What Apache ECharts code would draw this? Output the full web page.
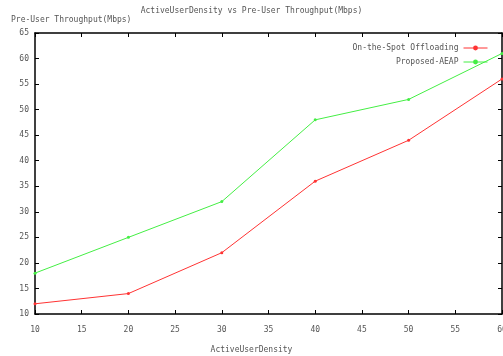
<!DOCTYPE html>
<html>
<head>
<meta charset="utf-8">
<script src="https://cdn.jsdelivr.net/npm/echarts@6/dist/echarts.min.js"></script>
<style>
  html, body { margin: 0; padding: 0; background: #fff; }
  #chart_id { width: 503px; height: 356px; }
</style>
</head>
<body>
<div id="chart_id"></div>
<script>
// data
var density = [10, 20, 30, 40, 50, 60];
var onTheSpot = [12, 14, 22, 36, 44, 56];
var proposedAEAP = [18, 25, 32, 48, 52, 61];
var seriesNames = ['On-the-Spot Offloading', 'Proposed-AEAP'];

var txt = { color: '#555', fontSize: 8, fontFamily: 'DejaVu Sans Mono' };

function pairs(xs, ys) {
  return xs.map(function (x, i) { return [x, ys[i]]; });
}

var axisCommon = {
  axisLine: { show: true, lineStyle: { color: '#000', width: 1.5 } },
  axisTick: { show: true, inside: true, length: 4, lineStyle: { color: '#000' } },
  splitLine: { show: false }
};

var chart = echarts.init(document.getElementById('chart_id'));
var option = {
  animation: false,
  title: [
    { text: 'ActiveUserDensity vs Pre-User Throughput(Mbps)', left: 'center', top: 2,
      textStyle: Object.assign({}, txt, { fontWeight: 'normal' }) },
    { text: 'Pre-User Throughput(Mbps)', left: 6, top: 11,
      textStyle: Object.assign({}, txt, { fontWeight: 'normal' }) },
    { text: 'ActiveUserDensity', left: 'center', top: 341,
      textStyle: Object.assign({}, txt, { fontWeight: 'normal' }) }
  ],
  color: ['#ff3333', '#44ee44'],
  grid: { left: 35, right: 1, top: 33, bottom: 42, outerBoundsMode: 'none', containLabel: false },
  legend: {
    orient: 'vertical',
    right: 10,
    top: 39,
    align: 'right',
    itemWidth: 24,
    itemHeight: 6,
    itemGap: 6,
    textStyle: txt,
    lineStyle: { width: 1 },
    data: seriesNames
  },
  xAxis: [
    Object.assign({ type: 'value', min: 10, max: 60, interval: 5, position: 'bottom',
      axisLabel: Object.assign({ margin: 12 }, txt) }, axisCommon),
    Object.assign({ type: 'value', min: 10, max: 60, interval: 5, position: 'top',
      axisLabel: { show: false } }, axisCommon)
  ],
  yAxis: [
    Object.assign({ type: 'value', min: 10, max: 65, interval: 5, position: 'left',
      axisLabel: Object.assign({ margin: 6 }, txt) }, axisCommon),
    Object.assign({ type: 'value', min: 10, max: 65, interval: 5, position: 'right',
      axisLabel: { show: false } }, axisCommon)
  ],
  series: [
    {
      name: seriesNames[0], type: 'line', data: pairs(density, onTheSpot),
      symbol: 'circle', symbolSize: 3, lineStyle: { width: 1 }
    },
    {
      name: seriesNames[1], type: 'line', data: pairs(density, proposedAEAP),
      symbol: 'circle', symbolSize: 3, lineStyle: { width: 1 }
    }
  ]
};
chart.setOption(option);
</script>
</body>
</html>
